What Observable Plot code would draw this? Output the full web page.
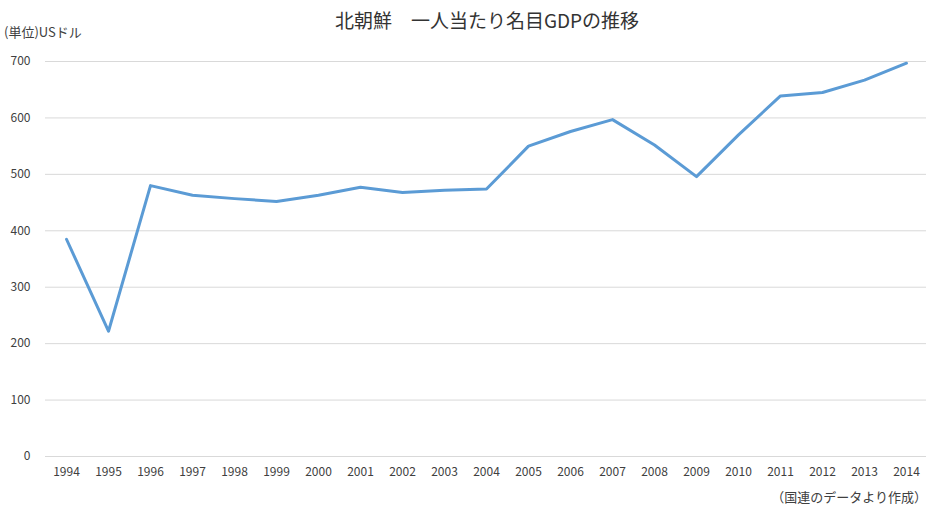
<!DOCTYPE html>
<html><head><meta charset="utf-8">
<script src="https://cdn.jsdelivr.net/npm/d3@7"></script>
<script src="https://cdn.jsdelivr.net/npm/@observablehq/plot@0.6"></script>
<style>
body{margin:0;background:#fff;font-family:"Noto Sans CJK JP","Noto Sans",sans-serif;color:#404040;}
#wrap{position:relative;width:931px;height:518px;overflow:hidden;}
#title{position:absolute;left:0;width:974px;top:6px;text-align:center;font-size:19px;color:#333;}
#unit{position:absolute;left:4px;top:22px;font-size:13px;color:#404040;}
#chart{position:absolute;left:0;top:45px;}
#cap{position:absolute;right:4px;top:487px;font-size:13px;color:#404040;}
</style></head>
<body><div id="wrap">
<div id="title">北朝鮮　一人当たり名目GDPの推移</div>
<div id="unit">(単位)USドル</div>
<div id="chart"></div>
<div id="cap">（国連のデータより作成）</div>
</div>
<script>
const years = ["1994","1995","1996","1997","1998","1999","2000","2001","2002","2003","2004","2005","2006","2007","2008","2009","2010","2011","2012","2013","2014"];
const gdp = [385,222,480,463,457,452,463,477,468,472,474,550,576,597,552,496,570,639,645,667,697];
const yTicks = [0,100,200,300,400,500,600,700];
const data = years.map((y,i)=>({year:y, value:gdp[i]}));
const chart = Plot.plot({
  width:931, height:440,
  marginLeft:45, marginRight:5, marginTop:16, marginBottom:29,
  style:{fontFamily:"'Noto Sans CJK JP','Noto Sans',sans-serif", fontSize:"12px", color:"#404040", background:"transparent"},
  x:{type:"point", domain:years, padding:0.4, label:null},
  y:{domain:[0,700], ticks:yTicks, label:null},
  marks:[
    Plot.gridY(yTicks,{stroke:"#d9d9d9", strokeOpacity:1, strokeWidth:1}),
    Plot.axisY(yTicks,{tickSize:0, tickPadding:15, label:null, fontSize:12}),
    Plot.axisX({tickSize:0, tickPadding:11, label:null, fontSize:12}),
    Plot.line(data,{x:"year", y:"value", stroke:"#5b9bd5", strokeWidth:3, strokeLinejoin:"round"})
  ]
});
document.getElementById("chart").append(chart);
</script>
</body></html>
